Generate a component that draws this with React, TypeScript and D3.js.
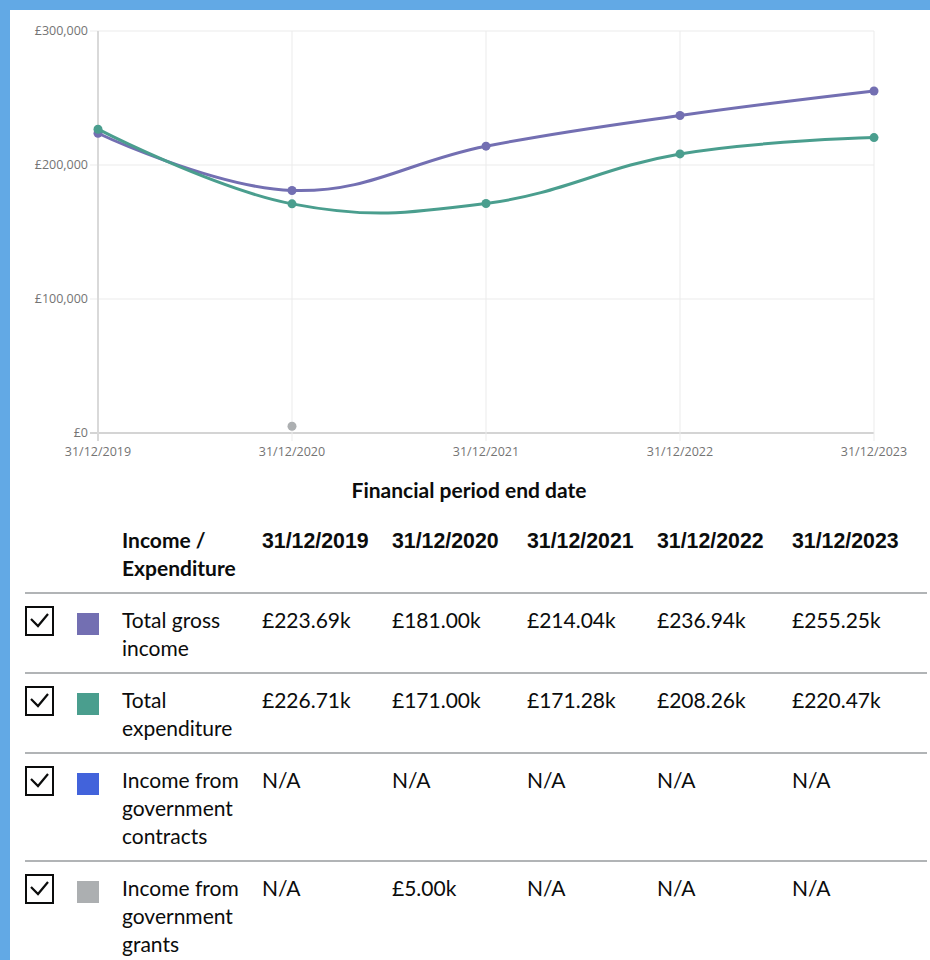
import * as d3 from 'd3';

// financial periods
const dates = ['31/12/2019', '31/12/2020', '31/12/2021', '31/12/2022', '31/12/2023'];

// series values (GBP)
const totalGrossIncome: (number | null)[] = [223690, 181000, 214040, 236940, 255250];
const totalExpenditure: (number | null)[] = [226710, 171000, 171280, 208260, 220470];
const govContracts: (number | null)[] = [null, null, null, null, null];
const govGrants: (number | null)[] = [null, 5000, null, null, null];

const yTicks = [0, 100000, 200000, 300000];

const seriesLabels = [
  ['Total gross', 'income'],
  ['Total', 'expenditure'],
  ['Income from', 'government', 'contracts'],
  ['Income from', 'government', 'grants'],
];
const seriesValues = [totalGrossIncome, totalExpenditure, govContracts, govGrants];
const seriesColors = ['#736fb2', '#4a9e8e', '#4263db', '#acafb1'];

const W = 930;
const H = 960;
const TEXT = '#0b0c0c';
const BODY_FONT = 'Lato, sans-serif';
const AXIS_FONT = "'Open Sans', sans-serif";

export default function App() {
  const x = d3.scalePoint<string>().domain(dates).range([98, 874]);
  const y = d3.scaleLinear().domain([0, 300000]).range([433, 31]);

  const line = d3
    .line<number | null>()
    .defined(v => v != null)
    .x((_, i) => x(dates[i]) as number)
    .y(v => y(v as number))
    .curve(d3.curveCardinal.tension(-0.2));

  const fmt = (v: number | null) => (v == null ? 'N/A' : `£${(v / 1000).toFixed(2)}k`);

  // table geometry
  const colX = [262, 392, 527, 657, 792];
  const lineH = 28;
  const rowPad = 24;
  const headerTop = 513;
  const rowTops: number[] = [];
  let top = headerTop + 2 * lineH + rowPad;
  seriesLabels.forEach(lbl => {
    rowTops.push(top);
    top += lbl.length * lineH + rowPad;
  });

  return (
    <div style={{ position: 'fixed', left: 0, top: 0, width: W, height: H }}>
      <svg width={W} height={H} style={{ display: 'block' }}>
        <rect width={W} height={H} fill="#62a9e5" />
        <rect x={10} y={10} width={W - 10} height={H - 10} fill="#fff" />

        {/* grid */}
        {yTicks.map(t => (
          <line key={'gy' + t} x1={90} x2={874} y1={y(t)} y2={y(t)} stroke={t === 0 ? '#d4d4d4' : '#ebebeb'} strokeWidth={t === 0 ? 2 : 1} />
        ))}
        {dates.map((d, i) => (
          <line key={'gx' + d} x1={x(d)} x2={x(d)} y1={31} y2={441} stroke={i === 0 ? '#d9d9d9' : '#ebebeb'} strokeWidth={i === 0 ? 2 : 1} />
        ))}

        {/* y labels */}
        {yTicks.map(t => (
          <text key={'ly' + t} x={88} y={y(t)} dy="0.35em" textAnchor="end" fontSize={12.5} fill="#747474" fontFamily={AXIS_FONT}>
            {'£' + d3.format(',')(t)}
          </text>
        ))}
        {/* x labels */}
        {dates.map(d => (
          <text key={'lx' + d} x={x(d)} y={452} dy="0.35em" textAnchor="middle" fontSize={12.5} fill="#747474" fontFamily={AXIS_FONT}>
            {d}
          </text>
        ))}

        {/* series */}
        {seriesValues.map((vals, s) => (
          <g key={'s' + s}>
            <path d={line(vals) || ''} fill="none" stroke={seriesColors[s]} strokeWidth={3} />
            {vals.map((v, i) =>
              v == null ? null : <circle key={i} cx={x(dates[i])} cy={y(v)} r={4.5} fill={seriesColors[s]} />
            )}
          </g>
        ))}

        <text x={469} y={491} dy="0.35em" textAnchor="middle" fontSize={21} fontWeight="bold" fill={TEXT} fontFamily={BODY_FONT}>
          Financial period end date
        </text>

        {/* table header */}
        <text x={122} y={headerTop + 28} dy="0.35em" fontSize={21} fontWeight="bold" fill={TEXT} fontFamily={BODY_FONT}>
          Income /
        </text>
        <text x={122} y={headerTop + 28 + lineH} dy="0.35em" fontSize={21} fontWeight="bold" fill={TEXT} fontFamily={BODY_FONT}>
          Expenditure
        </text>
        {dates.map((d, i) => (
          <text key={'h' + d} x={colX[i]} y={headerTop + 28} dy="0.35em" fontSize={21.3} fontWeight="bold" fill={TEXT} fontFamily="'Liberation Sans', Arial, sans-serif">
            {d}
          </text>
        ))}

        {/* table rows */}
        {seriesLabels.map((lbl, s) => {
          const t = rowTops[s];
          return (
            <g key={'r' + s}>
              <line x1={25} x2={927} y1={t} y2={t} stroke="#b1b4b6" strokeWidth={2} />
              <rect x={26} y={t + 14} width={27} height={28} fill="#fff" stroke={TEXT} strokeWidth={2} />
              <path d={`M${31},${t + 26} L${38},${t + 33} L${48},${t + 21}`} fill="none" stroke={TEXT} strokeWidth={2.2} />
              <rect x={77} y={t + 20} width={22} height={22} fill={seriesColors[s]} />
              {lbl.map((ln, k) => (
                <text key={k} x={122} y={t + 28 + k * lineH} dy="0.35em" fontSize={21} fill={TEXT} fontFamily={BODY_FONT}>
                  {ln}
                </text>
              ))}
              {seriesValues[s].map((v, i) => (
                <text key={'v' + i} x={colX[i]} y={t + 28} dy="0.35em" fontSize={21} fill={TEXT} fontFamily={BODY_FONT}>
                  {fmt(v)}
                </text>
              ))}
            </g>
          );
        })}
      </svg>
    </div>
  );
}
